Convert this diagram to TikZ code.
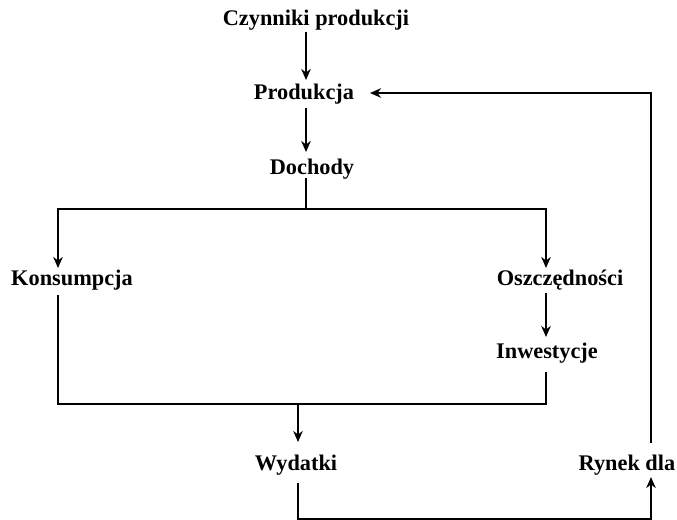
\documentclass[tikz,border=0pt]{standalone}
\usepackage{fontspec}
\setmainfont{Liberation Serif}
\usetikzlibrary{arrows.meta}
\begin{document}
\begin{tikzpicture}[x=1bp,y=-1bp,
  lab/.style={font=\fontsize{22.4}{26}\selectfont\bfseries, anchor=base, inner sep=0pt},
  ln/.style={line width=2.2bp, line join=miter},
  arr/.style={ln, -{Stealth[length=11bp,width=9.5bp,inset=3.5bp]}}]
\useasboundingbox (0,0) rectangle (677,520);
% texts
\node[lab] (czyn)  at (316,26)  {Czynniki produkcji};
\node[lab] (prod)  at (304,100) {Produkcja};
\node[lab] (doch)  at (312,175) {Dochody};
\node[lab] (kons)  at (72,285)  {Konsumpcja};
\node[lab] (osz)   at (560,285) {Oszczędności};
\node[lab] (inw)   at (547,358) {Inwestycje};
\node[lab] (wyd)   at (296,470) {Wydatki};
\node[lab] (ryn)   at (627,470) {Rynek dla};
% connector points
\coordinate (c1a) at (306,32);  \coordinate (c1b) at (306,80);
\coordinate (c2a) at (306,108); \coordinate (c2b) at (306,152);
\coordinate (dd)  at (306,178); \coordinate (brM) at (306,209);
\coordinate (brL) at (58,209);  \coordinate (brR) at (546,209);
\coordinate (kin) at (58,268);  \coordinate (oin) at (546,268);
\coordinate (oout) at (546,293); \coordinate (iin) at (546,337);
\coordinate (kout) at (58,295); \coordinate (botL) at (58,404);
\coordinate (botR) at (546,404); \coordinate (iout) at (546,372);
\coordinate (botM) at (298,404); \coordinate (win) at (298,442);
\coordinate (wout) at (298,483); \coordinate (wB) at (298,519.5);
\coordinate (rB) at (651,519.5);  \coordinate (rin) at (651,477);
\coordinate (rout) at (651,443); \coordinate (fbT) at (651,93);
\coordinate (pin) at (370,93);
% connectors
\draw[arr] (c1a) -- (c1b);
\draw[arr] (c2a) -- (c2b);
\draw[ln] (dd) -- (brM);
\draw[arr] (brM) -- (brL) -- (kin);
\draw[arr] (brM) -- (brR) -- (oin);
\draw[arr] (oout) -- (iin);
\draw[ln] (kout) -- (botL) -- (botR) -- (iout);
\draw[arr] (botM) -- (win);
\draw[arr] (wout) -- (wB) -- (rB) -- (rin);
\draw[arr] (rout) -- (fbT) -- (pin);
\end{tikzpicture}
\end{document}
